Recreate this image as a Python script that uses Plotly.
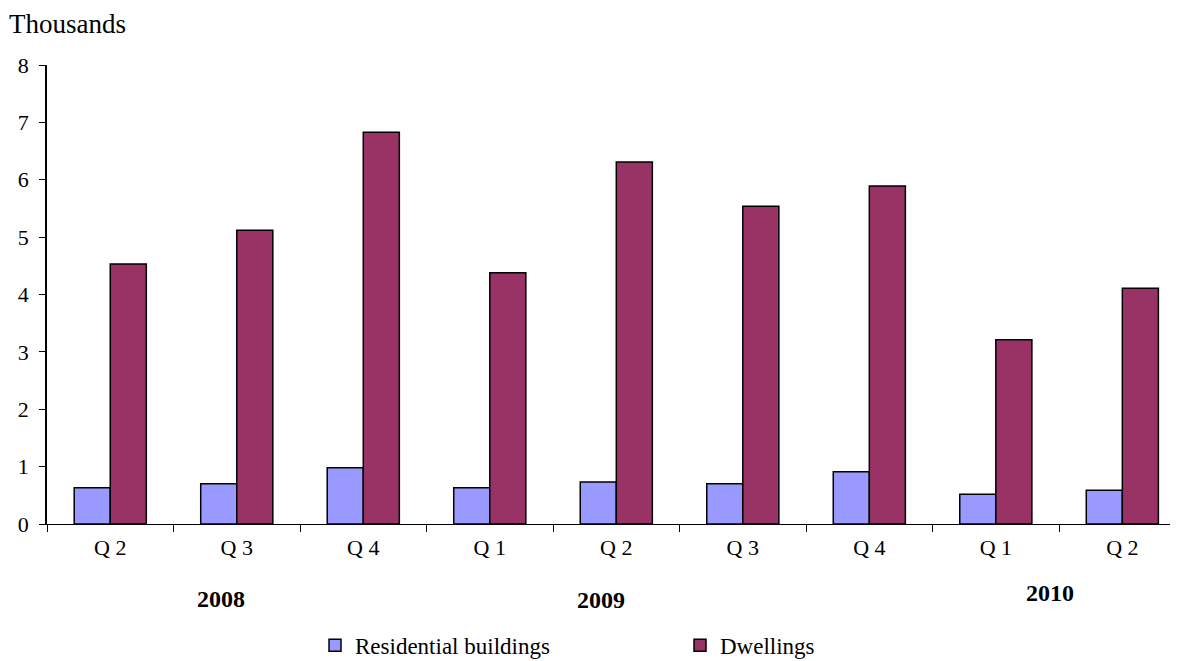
import plotly.graph_objects as go

quarters = ["Q 2", "Q 3", "Q 4", "Q 1", "Q 2", "Q 3", "Q 4", "Q 1", "Q 2"]
years = ["2008", "2009", "2010"]
residential = [0.63, 0.70, 0.98, 0.63, 0.73, 0.70, 0.91, 0.52, 0.59]
dwellings = [4.53, 5.12, 6.83, 4.38, 6.31, 5.54, 5.89, 3.21, 4.11]

cats = ["c%d" % i for i in range(len(quarters))]
FONT = "Liberation Serif"

fig = go.Figure()
fig.add_bar(x=cats, y=residential, name="Residential buildings",
            marker=dict(color="#9999FF", line=dict(color="black", width=1.5)))
fig.add_bar(x=cats, y=dwellings, name="Dwellings",
            marker=dict(color="#993366", line=dict(color="black", width=1.5)))

# page body has an 8px margin, so the figure is sized/offset to compensate
fig.update_layout(
    width=1170, height=653,
    margin=dict(l=39, r=0, t=57, b=137, autoexpand=False),
    paper_bgcolor="white", plot_bgcolor="white",
    barmode="group", bargap=0.43, bargroupgap=0,
    font=dict(family=FONT, size=20, color="black"),
    showlegend=True,
    legend=dict(orientation="h", xref="container", yref="container",
                x=0.2624, xanchor="left", y=0.024, yanchor="middle",
                font=dict(size=23), entrywidth=320, entrywidthmode="pixels",
                itemwidth=30, traceorder="normal"),
    xaxis=dict(
        type="category", tickmode="array", tickvals=cats, ticktext=quarters,
        tickson="boundaries", automargin=False,
        range=[-0.5, 8.44], showline=True, linecolor="black", linewidth=1,
        ticks="outside", ticklen=7, tickcolor="black", tickwidth=1,
        showgrid=False, zeroline=False, tickfont=dict(size=22), ticklabelstandoff=4,
    ),
    yaxis=dict(
        range=[0, 8], dtick=1, showline=True, linecolor="black", linewidth=1.5,
        ticks="outside", ticklen=6, tickcolor="black", showgrid=False,
        automargin=False, zeroline=False, tickfont=dict(size=22), ticklabelstandoff=6,
    ),
)

fig.add_annotation(text="Thousands", xref="paper", yref="paper", x=-0.035, y=1.089,
                   xanchor="left", yanchor="middle", showarrow=False,
                   font=dict(size=27, family=FONT))
year_pos = [(0.875, -0.163), (3.88, -0.166), (7.43, -0.150)]
for yr, (xp, yp) in zip(years, year_pos):
    fig.add_annotation(text="<b>%s</b>" % yr, xref="x", yref="paper", x=xp, y=yp,
                       xanchor="center", yanchor="middle", showarrow=False,
                       font=dict(size=24, family=FONT))

fig.write_html("out.html")
